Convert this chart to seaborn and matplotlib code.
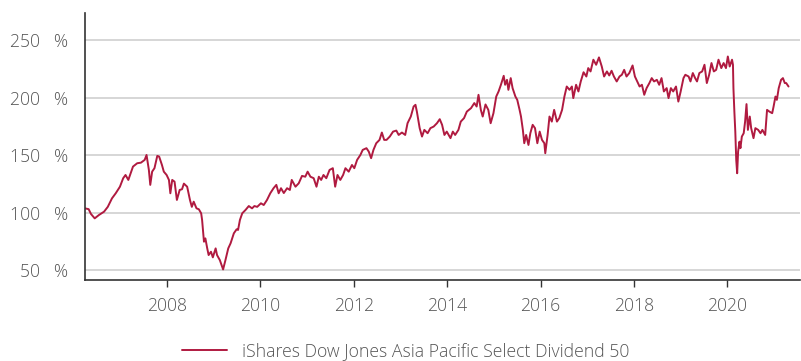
import matplotlib
matplotlib.use("Agg")
import matplotlib.pyplot as plt
import numpy as np
import pandas as pd
import seaborn as sns

# Fund performance, indexed in percent, sampled along the time axis (decimal years)
years = [
    2006.24, 2006.32, 2006.37, 2006.45, 2006.54, 2006.65, 2006.73, 2006.82, 2006.90, 2006.99,
    2007.06, 2007.11, 2007.17, 2007.22, 2007.27, 2007.36, 2007.44, 2007.52, 2007.56, 2007.61,
    2007.64, 2007.68, 2007.73, 2007.79, 2007.83, 2007.89, 2007.93, 2007.99, 2008.04, 2008.07,
    2008.11, 2008.16, 2008.21, 2008.27, 2008.32,
    2008.36, 2008.43, 2008.49, 2008.53, 2008.57, 2008.63, 2008.68, 2008.73, 2008.75, 2008.79,
    2008.82, 2008.86, 2008.89, 2008.94, 2008.98, 2009.04, 2009.07, 2009.13, 2009.20, 2009.25,
    2009.31, 2009.36, 2009.43, 2009.49, 2009.52, 2009.56, 2009.61, 2009.68, 2009.75, 2009.82,
    2009.87, 2009.93, 2010.01, 2010.07, 2010.14, 2010.21, 2010.28, 2010.34, 2010.39, 2010.44,
    2010.50,
    2010.57, 2010.63, 2010.67, 2010.75, 2010.82, 2010.89, 2010.96, 2011.01, 2011.07, 2011.14,
    2011.20, 2011.25, 2011.30, 2011.35, 2011.41, 2011.48, 2011.55, 2011.60, 2011.65, 2011.71,
    2011.77, 2011.82, 2011.89, 2011.96, 2012.01, 2012.07, 2012.14, 2012.19, 2012.27, 2012.32,
    2012.37, 2012.42, 2012.48, 2012.55, 2012.60, 2012.65,
    2012.70, 2012.77, 2012.84, 2012.91, 2012.96, 2013.03, 2013.10, 2013.15, 2013.22, 2013.28,
    2013.32, 2013.35, 2013.41, 2013.46, 2013.51, 2013.58, 2013.64, 2013.71, 2013.78, 2013.84,
    2013.89, 2013.94, 2013.99, 2014.07, 2014.12, 2014.17, 2014.24, 2014.29, 2014.36, 2014.42,
    2014.51, 2014.58, 2014.63, 2014.67, 2014.72, 2014.76,
    2014.82, 2014.88, 2014.93, 2014.99, 2015.05, 2015.10, 2015.15, 2015.21, 2015.24, 2015.28,
    2015.31, 2015.36, 2015.40, 2015.46, 2015.50, 2015.55, 2015.58, 2015.62, 2015.65, 2015.69,
    2015.74, 2015.78, 2015.83, 2015.88, 2015.93, 2015.98, 2016.03, 2016.08, 2016.10, 2016.15,
    2016.19, 2016.24, 2016.29, 2016.35, 2016.40, 2016.46, 2016.51, 2016.56, 2016.62, 2016.67,
    2016.70, 2016.76, 2016.81, 2016.86, 2016.92,
    2016.98, 2017.02, 2017.07, 2017.13, 2017.19, 2017.25, 2017.31, 2017.36, 2017.42, 2017.47,
    2017.52, 2017.57, 2017.63, 2017.69, 2017.74, 2017.79, 2017.84, 2017.90, 2017.97, 2018.02,
    2018.07, 2018.12, 2018.17, 2018.22, 2018.27, 2018.33, 2018.38, 2018.43, 2018.49, 2018.54,
    2018.59, 2018.64, 2018.70, 2018.74, 2018.79, 2018.84, 2018.90, 2018.95, 2019.00, 2019.06,
    2019.10, 2019.17, 2019.21, 2019.26, 2019.31, 2019.35, 2019.40, 2019.46, 2019.51, 2019.56,
    2019.61, 2019.66, 2019.71, 2019.76, 2019.81, 2019.87, 2019.92, 2019.97, 2020.01, 2020.05,
    2020.10, 2020.12, 2020.13, 2020.15, 2020.17, 2020.19, 2020.21, 2020.23, 2020.26, 2020.28,
    2020.31, 2020.35, 2020.38, 2020.41, 2020.44, 2020.48, 2020.51, 2020.56, 2020.60, 2020.66,
    2020.71, 2020.75, 2020.81, 2020.85, 2020.90, 2020.96, 2020.99, 2021.03, 2021.06, 2021.10,
    2021.15, 2021.19, 2021.23, 2021.26, 2021.31,
]

performance = [
    103.7, 103.0, 98.8, 95.0, 97.9, 100.8, 105.0, 112.4, 116.8, 122.5,
    129.9, 132.7, 128.4, 134.2, 140.0, 142.9, 143.4, 145.8, 150.1, 137.1,
    124.1, 135.6, 138.6, 149.3, 148.7, 141.4, 135.6, 132.7, 128.4, 116.8,
    128.4, 126.9, 111.0, 119.7, 120.3,
    125.2, 122.5, 111.0, 105.0, 109.5, 103.7, 102.9, 99.4, 93.6, 74.7,
    77.6, 68.9, 63.1, 66.0, 61.1, 68.9, 63.1, 58.7, 50.6, 58.7,
    68.9, 73.3, 82.0, 85.5, 84.9, 93.6, 99.4, 102.3, 105.7, 103.7,
    105.7, 105.0, 108.1, 106.6, 111.0, 116.8, 121.2, 124.1, 116.8, 121.2,
    117.0,
    121.2, 119.7, 128.4, 122.5, 125.5, 131.9, 131.2, 135.6, 131.2, 129.9,
    122.5, 131.2, 128.4, 132.7, 129.9, 137.1, 138.6, 122.5, 132.7, 128.4,
    132.7, 138.6, 135.6, 141.4, 138.6, 145.8, 150.1, 154.5, 156.0, 153.0,
    147.3, 154.5, 160.3, 163.2, 169.6, 163.2,
    163.2, 166.1, 170.4, 171.3, 167.5, 169.6, 167.5, 177.7, 183.5, 192.2,
    193.7, 187.8, 173.4, 166.1, 171.9, 169.0, 173.4, 174.8, 177.7, 181.2,
    176.3, 167.5, 170.4, 164.7, 170.4, 167.5, 171.9, 179.1, 182.1, 187.8,
    190.8, 195.2, 192.2, 202.4, 189.3, 183.5,
    194.0, 189.3, 177.7, 186.4, 200.9, 205.3, 211.1, 218.9, 211.1, 215.4,
    206.7, 216.9, 208.2, 200.9, 198.0, 189.3, 183.5, 171.9, 160.3, 167.5,
    158.8, 169.0, 176.3, 173.4, 160.3, 170.4, 163.2, 160.3, 151.6, 167.5,
    183.5, 179.1, 189.3, 179.1, 182.1, 189.3, 200.9, 209.6, 206.7, 209.6,
    199.5, 211.1, 205.3, 214.0, 222.0,
    218.3, 225.6, 222.7, 232.9, 228.5, 234.9, 227.0, 218.3, 222.7, 219.2,
    223.3, 218.3, 214.0, 218.3, 219.8, 224.1, 218.3, 221.3, 227.9, 218.3,
    214.0, 209.6, 211.1, 202.4, 208.2, 212.6, 216.9, 214.0, 215.4, 211.1,
    216.9, 205.3, 208.2, 199.5, 208.2, 205.3, 209.6, 196.5, 205.3, 216.9,
    219.8, 218.3, 214.0, 221.3, 216.9, 214.0, 221.3, 222.7, 228.5, 212.6,
    219.8, 230.0, 222.7, 224.1, 232.9, 225.6, 230.0, 225.6, 235.7, 227.0,
    232.9, 228.5, 208.2, 187.8, 170.4, 145.8, 134.2, 153.0, 161.7, 156.0,
    166.1, 169.0, 179.1, 194.3, 171.9, 183.5, 173.4, 164.7, 173.4, 171.9,
    169.0, 171.9, 167.5, 189.3, 187.8, 186.4, 192.2, 200.9, 198.0, 208.2,
    215.4, 216.9, 212.6, 212.6, 209.6,
]

series_name = "iShares Dow Jones Asia Pacific Select Dividend 50"
year_ticks = [2008, 2010, 2012, 2014, 2016, 2018, 2020]
pct_ticks = [50, 100, 150, 200, 250]

df = pd.DataFrame({"year": years, "value": performance, "series": series_name})

sns.set_style("white")
plt.rcParams["font.family"] = ["Open Sans", "DejaVu Sans"]
plt.rcParams["font.weight"] = "light"

line_color = "#b01a40"
text_color = "#555555"
label_size = 12.7

fig = plt.figure(figsize=(8.01, 3.61), dpi=100)
ax = fig.add_axes([0.106, 0.224, 0.893, 0.740])

sns.lineplot(data=df, x="year", y="value", hue="series", palette=[line_color],
             linewidth=1.4, ax=ax, legend=True)

ax.set_xlim(2006.24, 2021.56)
ax.set_ylim(41.3, 273.5)
ax.set_xticks(year_ticks)
ax.set_xticklabels([str(y) for y in year_ticks])
ax.set_yticks(pct_ticks)
ax.set_yticklabels([f"{v}   %" for v in pct_ticks])
ax.set_xlabel("")
ax.set_ylabel("")

ax.grid(axis="y", color="#d6d6d6", linewidth=1.4)
ax.grid(axis="x", visible=False)
ax.set_axisbelow(True)

for side in ("top", "right"):
    ax.spines[side].set_visible(False)
for side in ("left", "bottom"):
    ax.spines[side].set_color("#333333")
    ax.spines[side].set_linewidth(1.2)

ax.tick_params(axis="y", length=0, pad=12, labelsize=label_size, labelcolor=text_color)
ax.tick_params(axis="x", length=5, width=1, color="#333333", direction="out",
               pad=7, labelsize=label_size, labelcolor=text_color, bottom=True)

handles, labels = ax.get_legend_handles_labels()
ax.get_legend().remove()
fig.legend(handles, labels, loc="lower center", bbox_to_anchor=(0.506, -0.042),
           frameon=False, fontsize=label_size, labelcolor=text_color,
           handlelength=2.6, handletextpad=0.8)

fig.savefig("out.png", dpi=100)
